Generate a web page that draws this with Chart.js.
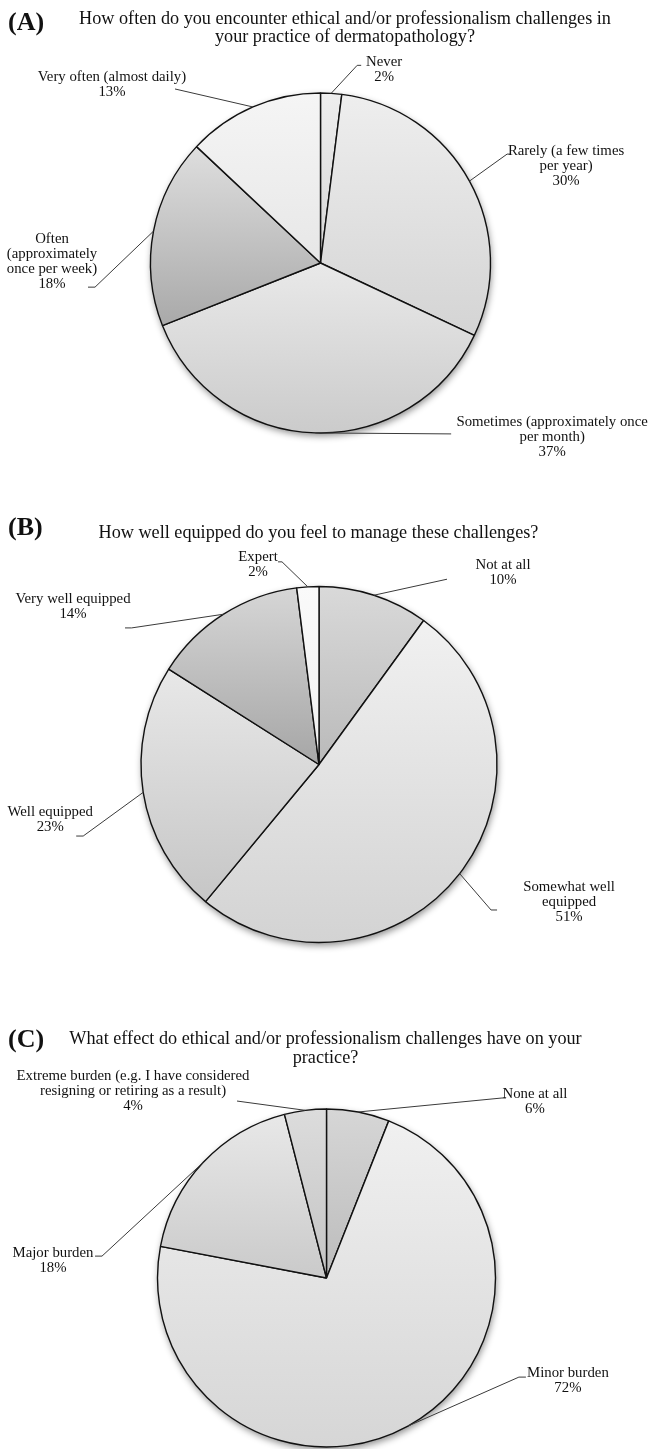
<!DOCTYPE html>
<html>
<head>
<meta charset="utf-8">
<script src="https://cdn.jsdelivr.net/npm/chart.js@4.4.1/dist/chart.umd.min.js"></script>
<style>
  html, body { margin: 0; padding: 0; background: #fff; }
  #page { position: relative; width: 648px; height: 1449px; overflow: hidden;
          font-family: "Liberation Serif", "Times New Roman", serif; color: #111; }
  #page canvas { position: absolute; left: 0; }
  .tag { position: absolute; left: 8px; font-weight: bold; font-size: 26px; line-height: 26px; }
  .q { position: absolute; text-align: center; font-size: 18.2px; line-height: 18px; white-space: nowrap; }
</style>
</head>
<body>
<div id="page">
  <canvas id="pieA" width="648" height="480" style="top:0px"></canvas>
  <canvas id="pieB" width="648" height="480" style="top:480px"></canvas>
  <canvas id="pieC" width="648" height="489" style="top:960px"></canvas>

  <div class="tag" style="top:9px">(A)</div>
  <div class="q" style="left:0; width:690px; top:9px">How often do you encounter ethical and/or professionalism challenges in<br>your practice of dermatopathology?</div>

  <div class="tag" style="top:514px">(B)</div>
  <div class="q" style="left:0; width:637px; top:523px">How well equipped do you feel to manage these challenges?</div>

  <div class="tag" style="top:1026px">(C)</div>
  <div class="q" style="left:0; width:651px; top:1029px; line-height:19px">What effect do ethical and/or professionalism challenges have on your<br>practice?</div>
</div>

<script>
// ---- survey answers (percent of respondents) ----
const catA = [['Never'], ['Rarely (a few times', 'per year)'], ['Sometimes (approximately once', 'per month)'],
              ['Often', '(approximately', 'once per week)'], ['Very often (almost daily)']];
const valA = [2, 30, 37, 18, 13];

const catB = [['Not at all'], ['Somewhat well', 'equipped'], ['Well equipped'], ['Very well equipped'], ['Expert']];
const valB = [10, 51, 23, 14, 2];

const catC = [['None at all'], ['Minor burden'], ['Major burden'],
              ['Extreme burden (e.g. I have considered', 'resigning or retiring as a result)']];
const valC = [6, 72, 18, 4];

// ---- slice shading: [top colour, bottom colour] of each slice's vertical gradient ----
const shadeA = [['#eeeeee', '#d6d6d6'], ['#eeeeee', '#d4d4d4'], ['#e9e9e9', '#cbcbcb'], ['#dedede', '#a9a9a9'], ['#f5f5f5', '#e7e7e7']];
const shadeB = [['#d9d9d9', '#bababa'], ['#f1f1f1', '#d3d3d3'], ['#e8e8e8', '#c6c6c6'], ['#d6d6d6', '#a6a6a6'], ['#fafafa', '#f0f0f0']];
const shadeC = [['#d6d6d6', '#bcbcbc'], ['#f0f0f0', '#d6d6d6'], ['#e8e8e8', '#cacaca'], ['#dcdcdc', '#c4c4c4']];

// ---- callout placement, offsets from the point where each slice's mid-angle meets the rim ----
// elbow: end of the slanted leader, end: short horizontal tail, text: centre of first text line
const calloutA = [
  { elbow: [26, -28], end: [30, -28], text: [53, -31] },
  { elbow: [37.6, -27], end: [41.6, -27], text: [96.6, -30] },
  { elbow: [136, 1], end: null, text: [237, -11] },
  { elbow: [-58.5, 56], end: [-65.5, 56], text: [-101.5, 8] },
  { elbow: [-78, -18], end: null, text: [-141, -30] }
];
const calloutB = [
  { elbow: [73, -16], end: null, text: [129, -30] },
  { elbow: [31.4, 36.4], end: [37.4, 36.4], text: [109.4, 13.4] },
  { elbow: [-60, 43.7], end: [-67, 43.7], text: [-93, 19.7] },
  { elbow: [-92, 13.7], end: [-98.6, 13.7], text: [-150.6, -15.3] },
  { elbow: [-25.8, -25], end: [-29.8, -25], text: [-49.8, -30] }
];
const calloutC = [
  { elbow: [143.8, -14], end: [147.8, -14], text: [176.8, -18] },
  { elbow: [111, -49], end: [118, -49], text: [160, -53] },
  { elbow: [-101.3, 93.8], end: [-108.3, 93.8], text: [-150.3, 90.8] },
  { elbow: [-68.3, -9.3], end: null, text: [-172.3, -34.3] }
];

const LABEL_FONT = '14.8px "Liberation Serif", "Times New Roman", serif';
const LINE_GAP = 15;

// vertical extent of one arc element (rim samples plus the centre)
function arcExtent(arc) {
  let top = arc.y, bottom = arc.y;
  const n = 48;
  for (let k = 0; k <= n; k++) {
    const a = arc.startAngle + (arc.endAngle - arc.startAngle) * k / n;
    const y = arc.y + arc.outerRadius * Math.sin(a);
    top = Math.min(top, y);
    bottom = Math.max(bottom, y);
  }
  return { top, bottom };
}

// shadow, per-slice gradients and outside callouts for one pie
function makeDecor(shades, callouts) {
  return {
    id: 'pieDecor',
    beforeDatasetsDraw(chart) {
      const ctx = chart.ctx;
      const arcs = chart.getDatasetMeta(0).data;
      if (!arcs.length) return;
      const a0 = arcs[0];
      ctx.save();
      ctx.beginPath();
      ctx.arc(a0.x, a0.y, a0.outerRadius, 0, Math.PI * 2);
      ctx.fillStyle = '#ffffff';
      ctx.shadowColor = 'rgba(0,0,0,0.45)';
      ctx.shadowBlur = 7;
      ctx.shadowOffsetX = 1;
      ctx.shadowOffsetY = 3;
      ctx.fill();
      ctx.restore();
      arcs.forEach((arc, i) => {
        const { top, bottom } = arcExtent(arc);
        const g = ctx.createLinearGradient(0, top, 0, bottom);
        g.addColorStop(0, shades[i][0]);
        g.addColorStop(1, shades[i][1]);
        arc.options.backgroundColor = g;
      });
    },
    afterDatasetsDraw(chart) {
      const ctx = chart.ctx;
      const arcs = chart.getDatasetMeta(0).data;
      const values = chart.data.datasets[0].data;
      ctx.save();
      ctx.font = LABEL_FONT;
      ctx.fillStyle = '#111';
      ctx.strokeStyle = '#3a3a3a';
      ctx.lineWidth = 1;
      ctx.textAlign = 'center';
      ctx.textBaseline = 'middle';
      arcs.forEach((arc, i) => {
        const mid = (arc.startAngle + arc.endAngle) / 2;
        const ex = arc.x + arc.outerRadius * Math.cos(mid);
        const ey = arc.y + arc.outerRadius * Math.sin(mid);
        const c = callouts[i];
        ctx.beginPath();
        ctx.moveTo(ex, ey);
        ctx.lineTo(ex + c.elbow[0], ey + c.elbow[1]);
        if (c.end) ctx.lineTo(ex + c.end[0], ey + c.end[1]);
        ctx.stroke();
        const lines = [].concat(chart.data.labels[i], [values[i] + '%']);
        lines.forEach((t, k) => {
          ctx.fillText(t, ex + c.text[0], ey + c.text[1] + k * LINE_GAP);
        });
      });
      ctx.restore();
    }
  };
}

function drawPie(id, labels, values, shades, callouts, radius, padding) {
  return new Chart(document.getElementById(id), {
    type: 'pie',
    data: {
      labels: labels,
      datasets: [{
        data: values,
        backgroundColor: shades.map(s => s[0]),
        borderColor: '#111111',
        borderWidth: 1.4
      }]
    },
    options: {
      responsive: false,
      animation: false,
      radius: radius,
      layout: { padding: padding },
      plugins: { legend: { display: false }, tooltip: { enabled: false }, title: { display: false } }
    },
    plugins: [makeDecor(shades, callouts)]
  });
}

drawPie('pieA', catA, valA, shadeA, calloutA, 170, { left: 0, right: 7, top: 60, bottom: 14 });
drawPie('pieB', catB, valB, shadeB, calloutB, 178, { left: 0, right: 10, top: 100, bottom: 11 });
drawPie('pieC', catC, valC, shadeC, calloutC, 169, { left: 5, right: 0, top: 150, bottom: 3 });
</script>
</body>
</html>
